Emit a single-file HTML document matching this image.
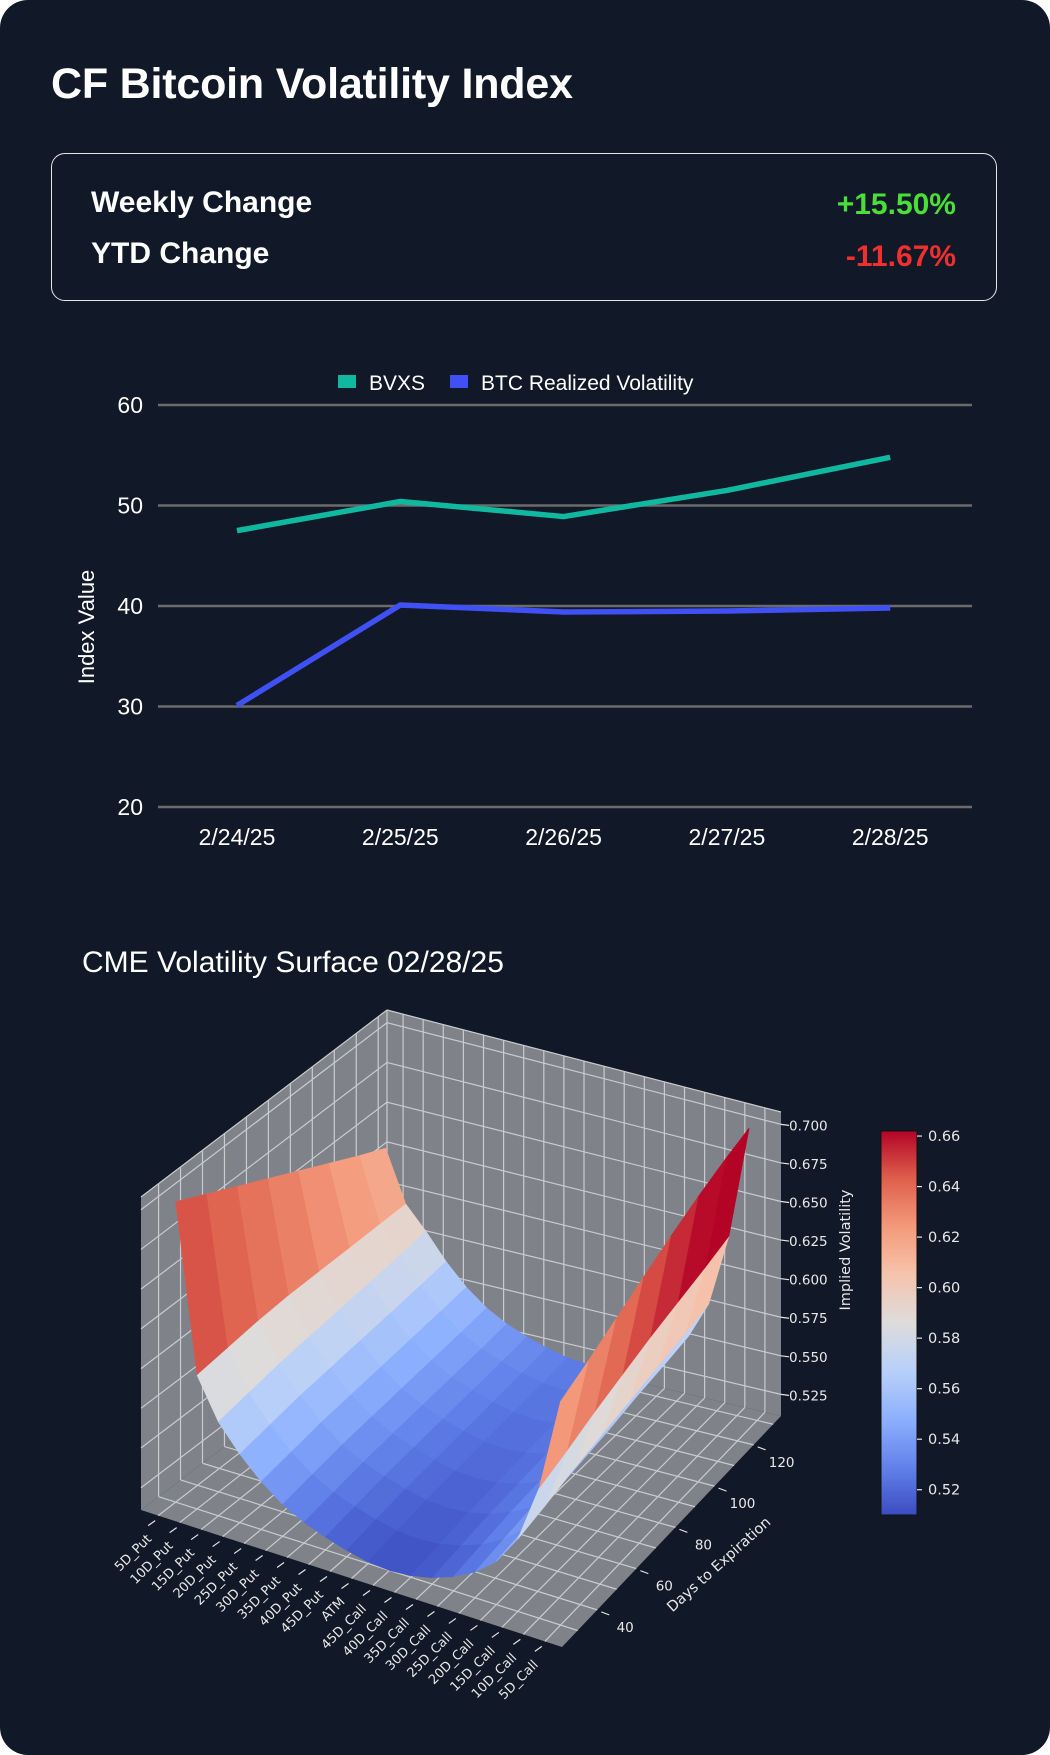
<!DOCTYPE html>
<html><head><meta charset="utf-8">
<style>
html,body{margin:0;padding:0;background:#fff;}
body{width:1050px;height:1755px;overflow:hidden;font-family:"Liberation Sans",sans-serif;}
#card{position:absolute;left:0;top:0;width:1050px;height:1755px;background:#111827;border-radius:28px;}
#title{position:absolute;left:51px;top:60px;font-size:43px;font-weight:bold;color:#fff;letter-spacing:-0.2px;}
#box{position:absolute;left:51px;top:153px;width:946px;height:148px;border:1.5px solid #e6e6e6;border-radius:14px;box-sizing:border-box;}
.lbl{position:absolute;left:39px;font-size:30px;font-weight:bold;color:#fff;}
.val{position:absolute;right:40px;font-size:30px;font-weight:bold;}
svg{position:absolute;left:0;top:0;}
</style></head>
<body>
<div id="card">
<div id="title">CF Bitcoin Volatility Index</div>
<div id="box">
  <div class="lbl" style="top:32px">Weekly Change</div>
  <div class="val" style="top:34px;color:#4ade3a">+15.50%</div>
  <div class="lbl" style="top:83px">YTD Change</div>
  <div class="val" style="top:86px;color:#f0302e">-11.67%</div>
</div>
<svg id="line" width="1050" height="900"></svg>
<svg id="surf" width="1050" height="1755"></svg>
</div>
<script>
const dates=["2/24/25","2/25/25","2/26/25","2/27/25","2/28/25"];
const bvxs=[47.5,50.4,48.9,51.5,54.8];
const realized=[30.1,40.1,39.4,39.5,39.8];
const yTicks=[20,30,40,50,60];

const strikes=["5D_Put","10D_Put","15D_Put","20D_Put","25D_Put","30D_Put","35D_Put","40D_Put","45D_Put","ATM","45D_Call","40D_Call","35D_Call","30D_Call","25D_Call","20D_Call","15D_Call","10D_Call","5D_Call"];
const days=[30,44,58,72,86,100,114,126];
const iv0=[0.700,0.595,0.570,0.554,0.541,0.531,0.524,0.519,0.515,0.512,0.511,0.512,0.515,0.520,0.527,0.538,0.556,0.592,0.650];
const iv1=[0.690,0.597,0.573,0.557,0.544,0.534,0.527,0.522,0.518,0.515,0.514,0.515,0.518,0.523,0.530,0.541,0.560,0.598,0.658];
const iv2=[0.680,0.599,0.576,0.560,0.547,0.537,0.530,0.525,0.521,0.518,0.517,0.518,0.521,0.526,0.533,0.545,0.565,0.605,0.667];
const iv3=[0.670,0.600,0.578,0.562,0.549,0.539,0.532,0.527,0.523,0.520,0.519,0.520,0.523,0.528,0.535,0.548,0.569,0.611,0.676];
const iv4=[0.660,0.600,0.580,0.564,0.551,0.541,0.534,0.529,0.525,0.522,0.521,0.522,0.525,0.530,0.538,0.551,0.573,0.617,0.685];
const iv5=[0.650,0.600,0.582,0.566,0.553,0.543,0.536,0.531,0.527,0.524,0.523,0.524,0.527,0.532,0.541,0.555,0.577,0.622,0.693];
const iv6=[0.640,0.600,0.584,0.568,0.555,0.545,0.538,0.533,0.529,0.526,0.525,0.526,0.529,0.535,0.544,0.558,0.581,0.627,0.700];
const iv7=[0.632,0.600,0.586,0.570,0.557,0.547,0.540,0.535,0.531,0.528,0.527,0.528,0.531,0.538,0.547,0.561,0.585,0.632,0.705];
const ivGrid=[iv0,iv1,iv2,iv3,iv4,iv5,iv6,iv7];
const zTicks=[0.525,0.550,0.575,0.600,0.625,0.650,0.675,0.700];
const dayTicks=[40,60,80,100,120];
const cbTicks=[0.52,0.54,0.56,0.58,0.60,0.62,0.64,0.66];

const NS="http://www.w3.org/2000/svg";
function mk(svg,tag,attrs,text){const e=document.createElementNS(NS,tag);for(const k in attrs)e.setAttribute(k,attrs[k]);if(text!==undefined)e.textContent=text;svg.appendChild(e);return e;}

// ---------- line chart ----------
(function(){
const svg=document.getElementById('line');
const x0=158,x1=972;
const xs=i=>237+i*163.3;
const ys=v=>807-(v-20)*10.05;
yTicks.forEach(t=>{
  const g=mk(svg,'line',{x1:x0,x2:x1,y1:ys(t),y2:ys(t),stroke:'#6b6b6b','stroke-width':2.5});
  
  
  const l=mk(svg,'text',{x:143,y:ys(t)+8,'text-anchor':'end',fill:'#fff','font-size':23},t);
  
  
});
dates.forEach((d,i)=>{
  const l=mk(svg,'text',{x:xs(i),y:845,'text-anchor':'middle',fill:'#fff','font-size':23},d);
  
  
});
const yt=mk(svg,'text',{x:0,y:0,transform:'translate(94,627) rotate(-90)','text-anchor':'middle',fill:'#fff','font-size':22},'Index Value');


function series(vals,color,name){
  const p=mk(svg,'polyline',{points:vals.map((v,i)=>xs(i)+','+ys(v)).join(' '),fill:'none',stroke:color,'stroke-width':5.5,'stroke-linejoin':'round'});
  
  
}
series(bvxs,'#10b8a0','bvxs-line');
series(realized,'#3f51f5','realized-volatility-line');
let r=mk(svg,'rect',{x:338,y:375,width:18,height:13,fill:'#10b8a0'});


let t=mk(svg,'text',{x:369,y:390,fill:'#fff','font-size':21},'BVXS');


r=mk(svg,'rect',{x:450,y:375,width:18,height:13,fill:'#3f51f5'});


t=mk(svg,'text',{x:481,y:390,fill:'#fff','font-size':21},'BTC Realized Volatility');


})();

// ---------- 3D surface ----------
(function(){
const svg=document.getElementById('surf');
const st=mk(svg,'text',{x:82,y:972,fill:'#fff','font-size':30},'CME Volatility Surface 02/28/25');


const smin=-0.8,smax=18.8,dmin=22,dmax=134,zmin=0.511,zmax=0.708;
const L=[141,1510],F=[562,1647],R=[781,1416],B=[387,1323];
const HL=313,HF=318,HR=304,HB=313;
function P(s,d,z){
  const u=(s-smin)/(smax-smin),v=(d-dmin)/(dmax-dmin);
  const w=[(1-u)*(1-v),u*(1-v),u*v,(1-u)*v];
  const x=L[0]*w[0]+F[0]*w[1]+R[0]*w[2]+B[0]*w[3];
  const y=L[1]*w[0]+F[1]*w[1]+R[1]*w[2]+B[1]*w[3];
  const h=HL*w[0]+HF*w[1]+HR*w[2]+HB*w[3];
  return [x,y-(z-zmin)/(zmax-zmin)*h];
}
const pts=a=>a.map(p=>p[0].toFixed(1)+','+p[1].toFixed(1)).join(' ');
const pane='#7f8389',gl='#c9cbce';
let e=mk(svg,'polygon',{points:pts([P(smin,dmin,zmin),P(smin,dmin,zmax),P(smin,dmax,zmax),P(smin,dmax,zmin)]),fill:pane});


e=mk(svg,'polygon',{points:pts([P(smin,dmax,zmin),P(smin,dmax,zmax),P(smax,dmax,zmax),P(smax,dmax,zmin)]),fill:pane});


e=mk(svg,'polygon',{points:pts([P(smin,dmin,zmin),P(smax,dmin,zmin),P(smax,dmax,zmin),P(smin,dmax,zmin)]),fill:pane});


function gline(a,b){const q=mk(svg,'line',{x1:a[0],y1:a[1],x2:b[0],y2:b[1],stroke:gl,'stroke-width':1.2});
  
  }
const dGrid=[30,40,50,60,70,80,90,100,110,120,130];
dGrid.forEach(d=>{gline(P(smin,d,zmin),P(smin,d,zmax));gline(P(smin,d,zmin),P(smax,d,zmin));});
zTicks.forEach(z=>{gline(P(smin,dmin,z),P(smin,dmax,z));gline(P(smin,dmax,z),P(smax,dmax,z));});
strikes.forEach((s,i)=>{gline(P(i,dmax,zmin),P(i,dmax,zmax));gline(P(i,dmin,zmin),P(i,dmax,zmin));});
gline(P(smin,dmax,zmin),P(smin,dmax,zmax));
gline(P(smin,dmin,zmax),P(smin,dmax,zmax));
gline(P(smin,dmax,zmax),P(smax,dmax,zmax));

// coolwarm
const cw=[[59,76,192],[98,130,234],[141,176,254],[184,208,249],[221,220,220],[245,196,173],[244,154,123],[222,96,77],[180,4,38]];
function cmap(v){let t=(v-0.510)/(0.662-0.510);t=Math.max(0,Math.min(1,t))*(cw.length-1);
  const i=Math.min(cw.length-2,Math.floor(t)),f=t-i;
  return 'rgb('+cw[i].map((c,k)=>Math.round(c+(cw[i+1][k]-c)*f)).join(',')+')';}
const cells=[];
for(let di=0;di<days.length-1;di++)for(let si=0;si<strikes.length-1;si++){
  const a=ivGrid[di][si],b=ivGrid[di][si+1],c=ivGrid[di+1][si+1],d=ivGrid[di+1][si];
  cells.push({di,si,avg:(a+b+c+d)/4,depth:(18-si)/18+di/7,
    poly:[P(si,days[di],a),P(si+1,days[di],b),P(si+1,days[di+1],c),P(si,days[di+1],d)]});
}
cells.sort((p,q)=>q.depth-p.depth);
cells.forEach(c=>{
  const col=cmap(c.avg);
  const q=mk(svg,'polygon',{points:pts(c.poly),fill:col,stroke:col,'stroke-width':0.6,'stroke-linejoin':'round'});
  
  
});

// strike ticks
strikes.forEach((s,i)=>{
  const p=P(i,dmin,zmin);
  const tk=mk(svg,'line',{x1:p[0]-3,y1:p[1]+5,x2:p[0]-10,y2:p[1]+10,stroke:'#e6e6e6','stroke-width':1.2});
  
  
  const tx=mk(svg,'text',{x:0,y:0,transform:'translate('+(p[0]-6)+','+(p[1]+24)+') rotate(-45)','text-anchor':'end',fill:'#e8e8e8','font-size':13,'font-family':'DejaVu Sans, sans-serif'},s);
  
  
});
dayTicks.forEach(d=>{
  const p=P(smax,d,zmin);
  const tk=mk(svg,'line',{x1:p[0]+4,y1:p[1]+2,x2:p[0]+12,y2:p[1]+5,stroke:'#e6e6e6','stroke-width':1.2});
  
  
  const tx=mk(svg,'text',{x:p[0]+28,y:p[1]+22,'text-anchor':'middle',fill:'#e8e8e8','font-size':13.5,'font-family':'DejaVu Sans, sans-serif'},d);
  
  
});
const dl=mk(svg,'text',{x:0,y:0,transform:'translate(722,1568) rotate(-42)','text-anchor':'middle',fill:'#e8e8e8','font-size':14.5,'font-family':'DejaVu Sans, sans-serif'},'Days to Expiration');


zTicks.forEach(z=>{
  const p=P(smax,dmax,z);
  const tk=mk(svg,'line',{x1:p[0],y1:p[1],x2:p[0]+8,y2:p[1]+1,stroke:'#e6e6e6','stroke-width':1.2});
  
  
  const tx=mk(svg,'text',{x:p[0]+8,y:p[1]+6,fill:'#e8e8e8','font-size':13.5,'font-family':'DejaVu Sans, sans-serif'},z.toFixed(3));
  
  
});
const zl=mk(svg,'text',{x:0,y:0,transform:'translate(850,1250) rotate(-90)','text-anchor':'middle',fill:'#e8e8e8','font-size':14.5,'font-family':'DejaVu Sans, sans-serif'},'Implied Volatility');



// colorbar
const cbx=881,cbw=36,cbTop=1131,cbBot=1515,vmin=0.510,vmax=0.662;
const cy=v=>cbBot-(v-vmin)/(vmax-vmin)*(cbBot-cbTop);
const defs=mk(svg,'defs',{});
const lg=mk(defs,'linearGradient',{id:'cwg',x1:0,y1:1,x2:0,y2:0});
cw.forEach((c,i)=>mk(lg,'stop',{offset:(i/(cw.length-1)),'stop-color':'rgb('+c.join(',')+')'}));
const cb=mk(svg,'rect',{x:cbx,y:cbTop,width:cbw,height:cbBot-cbTop,fill:'url(#cwg)',stroke:'#111',"stroke-width":1});


cbTicks.forEach(v=>{
  const tk=mk(svg,'line',{x1:cbx+cbw,x2:cbx+cbw+5,y1:cy(v),y2:cy(v),stroke:'#e6e6e6','stroke-width':1.2});
  
  
  const tx=mk(svg,'text',{x:cbx+cbw+11,y:cy(v)+5,fill:'#e8e8e8','font-size':14.5,'font-family':'DejaVu Sans, sans-serif'},v.toFixed(2));
  
  
});
})();
</script>
</body></html>
